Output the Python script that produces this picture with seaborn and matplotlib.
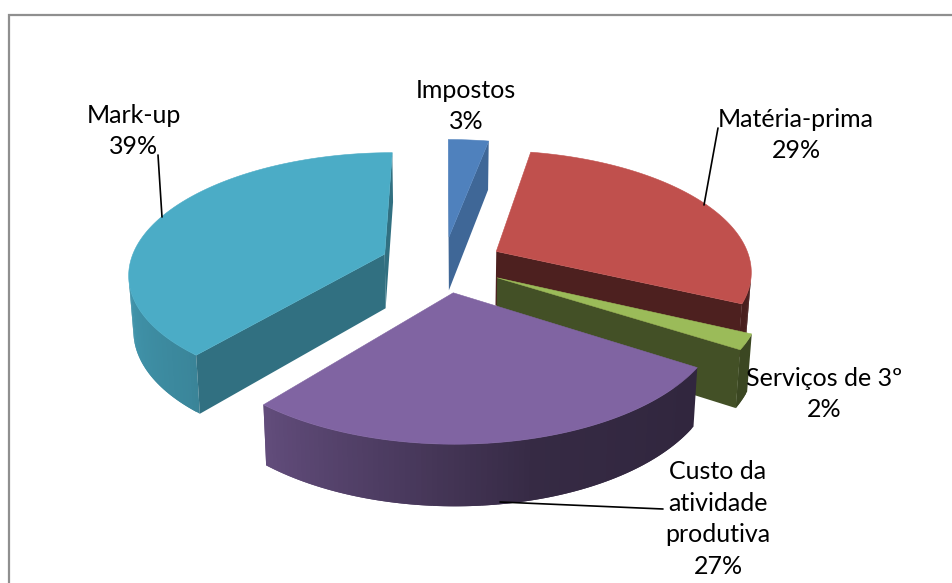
import numpy as np
import matplotlib
matplotlib.use("Agg")
import matplotlib.pyplot as plt
import seaborn as sns

sns.set_style("white")
plt.rcParams["font.family"] = ["Lato", "DejaVu Sans"]

# Cost breakdown, in percent
categories = ["Matéria-prima", "Serviços de 3º", "Custo da\natividade\nprodutiva", "Mark-up", "Impostos"]
shares = [29, 2, 27, 39, 3]
top_colors = ["#c0504d", "#9bbb59", "#8064a2", "#4bacc6", "#4f81bd"]
cut_shades = [0.40, 0.43, 0.42, 0.65, 0.80]
first_angle = 10.8   # clockwise from the back of the pie
explode = [0.236, 0.236, 0.236, 0.248, 0.236]

# Camera model for the tilted pie, in figure pixels
CX, CY, RX, RY, PERSP = 443.5, 264.0, 255.0, 119.3, 0.149
THICK, THICK_PERSP, TAPER = 54.6, 0.098, 0.985


def project(x, u, lowered=False):
    x, u = np.asarray(x, float), np.asarray(u, float)
    s = 1 / (1 - PERSP * u)
    px = RX * x * s
    py = RY * u * s
    if lowered:
        px = px * TAPER
        py = py + THICK / (1 - THICK_PERSP * u)
    return CX + px, CY + py


def shoelace(xs, ys):
    return 0.5 * np.sum(xs * np.roll(ys, -1) - np.roll(xs, -1) * ys)


def fill_face(ax, a, b, color, z):
    # Quad between the top-surface points a and b and the same points lowered;
    # faces turned away from the viewer are skipped
    xa, ua = a
    xb, ub = b
    x0, y0 = project(xa, ua)
    x1, y1 = project(xb, ub)
    x2, y2 = project(xb, ub, True)
    x3, y3 = project(xa, ua, True)
    xs, ys = np.array([x0, x1, x2, x3]), np.array([y0, y1, y2, y3])
    if shoelace(xs, ys) <= 0:
        return
    ax.fill(xs, ys, facecolor=color, edgecolor="none", lw=0, zorder=z)


def wall_light(t):
    return np.interp(t, [115, 125, 165, 190, 222, 270, 340], [0.38, 0.38, 0.42, 0.58, 0.78, 0.90, 0.95])


fig, ax = plt.subplots(figsize=(9.53, 5.83), dpi=100)
fig.subplots_adjust(0, 0, 1, 1)
ax.set_xlim(0, 953)
ax.set_ylim(583, 0)
ax.axis("off")

# Chart area frame
ax.plot([9, 9, 953], [583, 15, 15], color="#8f8f8f", lw=1.6, zorder=1, solid_joinstyle="miter")

edges = first_angle + np.cumsum([0] + [v * 3.6 for v in shares])
spans = [(edges[i], edges[i + 1]) for i in range(len(shares))]
# Paint from the back of the pie to the front
order = [4, 0, 3, 1, 2]

for rank, i in enumerate(order):
    t0, t1 = spans[i]
    mid = np.radians((t0 + t1) / 2)
    ex, eu = explode[i] * np.sin(mid), -explode[i] * np.cos(mid)
    ts = np.linspace(t0, t1, max(int(t1 - t0), 8))
    rad = np.radians(ts)
    xs = ex + np.sin(rad)
    us = eu - np.cos(rad)
    base = np.array(matplotlib.colors.to_rgb(top_colors[i]))
    z = 10 + rank * 5

    # Each outer-wall band overlaps the next one so no seams show through
    for k in range(len(ts) - 1):
        shade = wall_light((ts[k] + ts[k + 1]) / 2)
        j = min(k + 2, len(ts) - 1)
        fill_face(ax, (xs[j], us[j]), (xs[k], us[k]), base * shade, z)
    cut = base * cut_shades[i]
    fill_face(ax, (ex, eu), (xs[-1], us[-1]), cut, z + 1)
    fill_face(ax, (xs[0], us[0]), (ex, eu), cut, z + 1)

    px, py = project(np.r_[ex, xs], np.r_[eu, us])
    ax.fill(px, py, facecolor=base, edgecolor=base, lw=0.4, zorder=z + 2)

# Leader lines
leaders = [([158, 162], [155, 217]), ([718, 704], [128, 205]), ([500, 663], [502, 509])]
for lx, ly in leaders:
    ax.plot(lx, ly, color="black", lw=1.2, zorder=40)

# Category labels with their shares
anchors = [(796, 135), (824, 394), (718, 519), (134, 131), (466, 106)]
for (x, y), name, v in zip(anchors, categories, shares):
    ax.text(x, y, f"{name}\n{v}%", ha="center", va="center", fontsize=18,
            linespacing=1.47, color="black", zorder=50)

fig.savefig("out.png", dpi=100, facecolor="white")
